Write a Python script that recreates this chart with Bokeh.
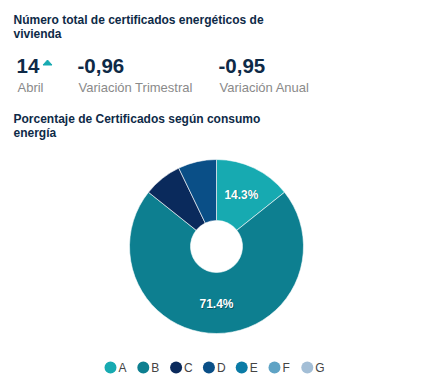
import math
from bokeh.plotting import figure
from bokeh.models import Range1d, ColumnDataSource
from bokeh.core.properties import value
from bokeh.embed import file_html
from bokeh.resources import INLINE

# ---- data ----
title_main = ["Número total de certificados energéticos de", "vivienda"]
kpi_values = ["14", "-0,96", "-0,95"]
kpi_labels = ["Abril", "Variación Trimestral", "Variación Anual"]
title_pie = ["Porcentaje de Certificados según consumo", "energía"]
categories = ["A", "B", "C", "D", "E", "F", "G"]
counts = [2, 10, 1, 1, 0, 0, 0]
colors = ["#17aab1", "#0d7f90", "#0a2a5c", "#0a4f87", "#0a7ba6", "#5fa3c5", "#a3bed6"]

W, H = 414, 375
FONT = value("Liberation Sans")
NAVY = "#0e2a47"
GREY = "#8a8a8a"


def fy(sy):
    return H - sy


def fx(sx):
    return sx


p = figure(width=W, height=H, x_range=Range1d(0, W), y_range=Range1d(0, H),
           output_backend="svg", toolbar_location=None, x_axis_type=None,
           y_axis_type=None, min_border=0, outline_line_color=None)
p.grid.visible = False

# titles
for i, t in enumerate(title_main):
    p.text(x=[fx(13)], y=[fy(19 + 14.5 * i)], text=[t], text_font=FONT, text_font_style="bold",
           text_font_size="12px", text_color=NAVY, text_baseline="middle")
for i, t in enumerate(title_pie):
    p.text(x=[fx(13)], y=[fy(118 + 14.5 * i)], text=[t], text_font=FONT, text_font_style="bold",
           text_font_size="12px", text_color=NAVY, text_baseline="middle")

# KPIs
kpi_x = [16, 77, 218]
for xk, v, lab in zip(kpi_x, kpi_values, kpi_labels):
    p.text(x=[fx(xk)], y=[fy(65)], text=[v], text_font=FONT, text_font_style="bold",
           text_font_size="20.5px", text_color=NAVY, text_baseline="middle")
    p.text(x=[fx(xk + 1)], y=[fy(87)], text=[lab], text_font=FONT,
           text_font_size="13px", text_color=GREY, text_baseline="middle")
tx, ty = fx(47), fy(62)
p.patch(x=[tx - 4.5, tx + 4.5, tx], y=[ty - 2.5, ty - 2.5, ty + 2.5], color="#17aab1")

# donut
cx, cy = fx(216), fy(246)
r_out, r_in = 87, 26
total = sum(counts)
starts, ends, mids, pcts = [], [], [], []
cum = 0.0
for c in counts:
    f0 = cum / total
    cum += c
    f1 = cum / total
    starts.append(math.pi / 2 - 2 * math.pi * f0)
    ends.append(math.pi / 2 - 2 * math.pi * f1)
    mids.append(math.pi / 2 - math.pi * (f0 + f1))
    pcts.append(100.0 * c / total)

nz = [i for i, c in enumerate(counts) if c > 0]
src_nz = ColumnDataSource(dict(start=[starts[i] for i in nz], end=[ends[i] for i in nz],
                               color=[colors[i] for i in nz]))
p.annular_wedge(x=cx, y=cy, inner_radius=r_in, outer_radius=r_out, start_angle="start",
                end_angle="end", direction="clock", fill_color="color",
                line_color="white", line_width=0.6, source=src_nz)

rl = (r_out + r_in) / 2 + 1
lx, ly, lt = [], [], []
for i, pc in enumerate(pcts):
    if pc >= 10:
        lx.append(cx + rl * math.cos(mids[i]))
        ly.append(cy + rl * math.sin(mids[i]))
        lt.append(f"{pc:.1f}%")
p.text(x=[x + 0.8 for x in lx], y=[y - 0.8 for y in ly], text=lt, text_font=FONT,
       text_font_style="bold", text_font_size="12px", text_color="#000000", text_alpha=0.35,
       text_align="center", text_baseline="middle")
p.text(x=lx, y=ly, text=lt, text_font=FONT, text_font_style="bold", text_font_size="12px",
       text_color="white", text_align="center", text_baseline="middle")

# legend
leg_x0, leg_dx = 110, 32.8
lgx = [fx(leg_x0 + leg_dx * i) for i in range(len(categories))]
lgy = [fy(367)] * len(categories)
p.scatter(x=lgx, y=lgy, size=12, marker="circle", fill_color=colors, line_color=None)
p.text(x=[x + 8 for x in lgx], y=lgy, text=categories, text_font=FONT, text_font_size="12px",
       text_color="#444444", text_baseline="middle")

open("out.html", "w").write(file_html(p, INLINE))
